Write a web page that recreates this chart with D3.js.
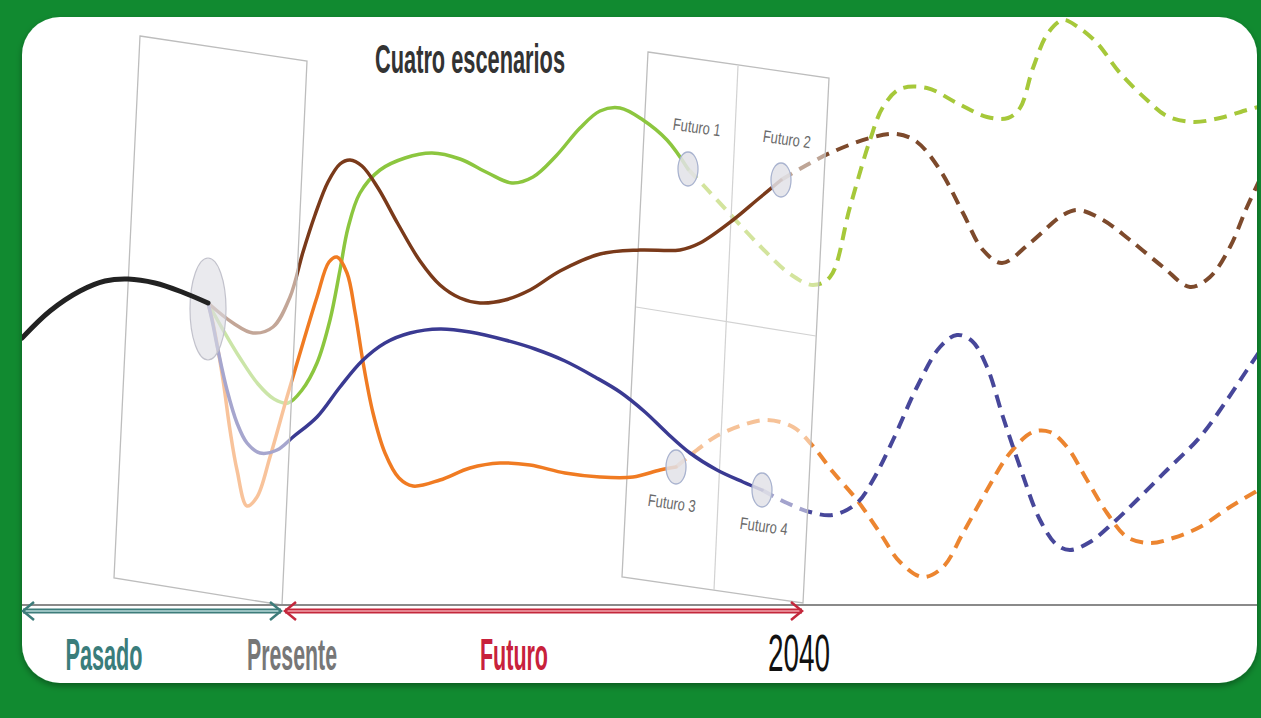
<!DOCTYPE html>
<html>
<head>
<meta charset="utf-8">
<script src="https://cdn.jsdelivr.net/npm/d3@7"></script>
<style>
  body { margin: 0; background: #118a30; overflow: hidden; }
</style>
</head>
<body>
<script>
// points are read in the reference frame (1261 x 718 units, y down)
const pasado = [[22,338],[50,311],[80,291],[105,281],[128,279],[155,283],[182,292],[208,303]];

const scenarioNames = ["Futuro 1", "Futuro 2", "Futuro 3", "Futuro 4"];

const futuro1Path = [[208,303],[222,328],[240,358],[258,384],[274,399],[288,403],[302,390],[317,363],[330,320],[340,270],[348,228],[360,193],[380,170],[405,158],[432,153],[460,159],[488,173],[512,183],[533,177],[556,156],[580,128],[600,111],[620,108],[643,120],[667,140],[688,169]];
const futuro2Path = [[208,303],[233,323],[253,333],[273,327],[290,297],[303,252],[315,215],[328,182],[340,164],[350,160],[362,166],[378,188],[398,224],[420,261],[440,285],[460,298],[480,303],[505,300],[530,290],[560,271],[600,254],[640,250],[680,250],[700,243],[733,220],[757,200],[781,180]];
const futuro3Path = [[208,303],[213,323],[223,380],[230,430],[237,470],[247,506],[257,497],[270,457],[287,397],[303,343],[317,297],[329,262],[337,257],[347,273],[355,312],[363,362],[373,413],[385,453],[399,478],[413,486],[440,480],[470,468],[500,463],[530,465],[565,473],[600,477],[633,477],[660,470],[676,467]];
const futuro4Path = [[208,303],[212,320],[218,350],[227,390],[237,423],[247,443],[260,453],[277,450],[293,437],[317,417],[340,387],[362,361],[385,343],[410,333],[440,329],[470,332],[505,340],[535,349],[565,361],[595,377],[620,392],[645,412],[667,433],[690,453],[717,470],[743,482],[762,490]];

const futuro1Dash = [[688,169],[705,187],[730,214],[760,246],[790,274],[813,285],[830,277],[850,207],[870,140],[883,107],[900,89],[927,88],[957,103],[987,117],[1008,118],[1020,108],[1033,68],[1048,33],[1063,20],[1078,27],[1097,43],[1120,73],[1147,100],[1167,116],[1193,122],[1220,118],[1247,110],[1262,106]];
const futuro2Dash = [[781,180],[805,166],[830,153],[870,138],[897,134],[917,142],[940,170],[963,213],[983,250],[1002,263],[1030,243],[1063,215],[1078,210],[1103,220],[1130,240],[1163,267],[1190,287],[1210,277],[1230,247],[1247,207],[1262,175]];
const futuro3Dash = [[676,467],[697,450],[715,437],[740,426],[767,420],[793,427],[812,445],[833,472],[857,500],[880,533],[900,562],[923,577],[943,567],[963,533],[987,490],[1010,453],[1033,432],[1050,432],[1067,447],[1087,480],[1107,513],[1127,537],[1150,543],[1173,538],[1200,527],[1230,507],[1262,488]];
const futuro4Dash = [[762,490],[787,503],[810,512],[833,515],[857,503],[873,480],[893,440],[917,387],[940,347],[957,335],[972,341],[987,367],[1003,417],[1020,467],[1040,520],[1057,545],[1070,550],[1090,542],[1113,523],[1137,500],[1167,470],[1200,437],[1227,400],[1247,370],[1262,348]];

const presenteNode = [208,309];
const futureLabelAt = [[696,133],[786,145],[671,509],[763,532]];

const planoPasado = [[140,36],[307,61],[282,605],[114,578]];
const planoFuturo = [[648,52],[829,78],[803,603],[622,577]];
const divisiones = [[[738,66],[714,590]],[[636,307],[816,336]]];

const timeLabels = ["Pasado", "Presente", "Futuro", "2040"];
const timeLabelAt = [104, 292, 514, 799];
const pastSpan = [22, 282], futureSpan = [284, 803];
const titulo = "Cuatro escenarios";

const solidPaths = [futuro1Path, futuro2Path, futuro3Path, futuro4Path];
const dashPaths = [futuro1Dash, futuro2Dash, futuro3Dash, futuro4Dash];
const solidColors = ["#8cc63f", "#7a3a1a", "#f07b22", "#3a3a92"];
const dashColors = ["#a6c83a", "#7d4a2c", "#ec8530", "#47479a"];

const W = 1261, H = 718;
const x = d3.scaleLinear().domain([0, 1261]).range([0, W]);
const y = d3.scaleLinear().domain([0, 718]).range([0, H]);
const line = d3.line().x(d => x(d[0])).y(d => y(d[1])).curve(d3.curveCatmullRom.alpha(0.5));
const poly = pts => "M" + pts.map(p => x(p[0]) + "," + y(p[1])).join("L") + "Z";

const svg = d3.select("body").append("svg").attr("width", W).attr("height", H);
const defs = svg.append("defs");
defs.append("clipPath").attr("id", "card")
  .append("rect").attr("x", x(22)).attr("y", y(17)).attr("width", x(1257) - x(22)).attr("height", y(683) - y(17)).attr("rx", 38);
const f = defs.append("filter").attr("id", "shadow").attr("x", "-5%").attr("y", "-5%").attr("width", "110%").attr("height", "115%");
f.append("feDropShadow").attr("dx", 0).attr("dy", 3).attr("stdDeviation", 3).attr("flood-color", "#000").attr("flood-opacity", 0.35);

svg.append("rect").attr("width", W).attr("height", H).attr("fill", "#118a30");
svg.append("rect")
  .attr("x", x(22)).attr("y", y(17)).attr("width", x(1257) - x(22)).attr("height", y(683) - y(17))
  .attr("rx", 38).attr("fill", "#fff").attr("filter", "url(#shadow)");

const plot = svg.append("g").attr("clip-path", "url(#card)");

// dashed continuations, behind the future plane
dashPaths.forEach((p, i) => {
  plot.append("path").attr("d", line(p))
    .attr("fill", "none").attr("stroke", dashColors[i])
    .attr("stroke-width", 4).attr("stroke-dasharray", "13 8");
});

// future plane
plot.append("path").attr("d", poly(planoFuturo))
  .attr("fill", "#fff").attr("fill-opacity", 0.5)
  .attr("stroke", "#bdbdbd").attr("stroke-width", 1.3);
divisiones.forEach(d => {
  plot.append("line")
    .attr("x1", x(d[0][0])).attr("y1", y(d[0][1])).attr("x2", x(d[1][0])).attr("y2", y(d[1][1]))
    .attr("stroke", "#d2d2d2").attr("stroke-width", 1.2);
});

// solid scenario paths
solidPaths.forEach((p, i) => {
  plot.append("path").attr("d", line(p))
    .attr("fill", "none").attr("stroke", solidColors[i])
    .attr("stroke-width", 3.5).attr("stroke-linecap", "round");
});

// past plane fades the start of the scenarios
plot.append("path").attr("d", poly(planoPasado))
  .attr("fill", "#fff").attr("fill-opacity", 0.55)
  .attr("stroke", "#bdbdbd").attr("stroke-width", 1.3);

plot.append("ellipse")
  .attr("cx", x(presenteNode[0])).attr("cy", y(presenteNode[1])).attr("rx", 18).attr("ry", 51)
  .attr("fill", "#dcdce2").attr("fill-opacity", 0.6).attr("stroke", "#c2c2cc").attr("stroke-width", 1.2);

plot.append("path").attr("d", line(pasado))
  .attr("fill", "none").attr("stroke", "#222").attr("stroke-width", 5).attr("stroke-linecap", "round");

// future nodes and labels
solidPaths.forEach((p, i) => {
  const end = p[p.length - 1];
  plot.append("ellipse")
    .attr("cx", x(end[0])).attr("cy", y(end[1])).attr("rx", 10).attr("ry", 17)
    .attr("fill", "#e2e2e8").attr("fill-opacity", 0.85).attr("stroke", "#a9b3cf").attr("stroke-width", 1.3);
  const at = futureLabelAt[i];
  plot.append("text")
    .attr("transform", "translate(" + x(at[0]) + "," + y(at[1]) + ") rotate(8)")
    .attr("text-anchor", "middle").attr("font-family", "Liberation Sans, Arial, sans-serif")
    .attr("font-size", 17).attr("fill", "#6a6a6a")
    .attr("textLength", 48).attr("lengthAdjust", "spacingAndGlyphs")
    .text(scenarioNames[i]);
});

// title
svg.append("text")
  .attr("x", x(470)).attr("y", y(73)).attr("text-anchor", "middle")
  .attr("font-family", "Liberation Sans, Arial, sans-serif").attr("font-weight", "bold")
  .attr("font-size", 41).attr("fill", "#333")
  .attr("textLength", 190).attr("lengthAdjust", "spacingAndGlyphs")
  .text(titulo);

// timeline
svg.append("line").attr("x1", x(22)).attr("x2", x(1257)).attr("y1", y(605)).attr("y2", y(605))
  .attr("stroke", "#8a8a8a").attr("stroke-width", 2);

function span(s, col, inner) {
  const g = svg.append("g");
  const ya = y(611);
  g.append("line").attr("x1", x(s[0]) + 1).attr("x2", x(s[1]) - 1).attr("y1", ya).attr("y2", ya)
    .attr("stroke", col).attr("stroke-width", 5);
  g.append("line").attr("x1", x(s[0]) + 2).attr("x2", x(s[1]) - 2).attr("y1", ya).attr("y2", ya)
    .attr("stroke", inner).attr("stroke-width", 1.4);
  g.append("polyline").attr("points", [[x(s[0]) + 12, ya - 9], [x(s[0]) + 1, ya], [x(s[0]) + 12, ya + 9]].join(" "))
    .attr("fill", "none").attr("stroke", col).attr("stroke-width", 2.5);
  g.append("polyline").attr("points", [[x(s[1]) - 12, ya - 9], [x(s[1]) - 1, ya], [x(s[1]) - 12, ya + 9]].join(" "))
    .attr("fill", "none").attr("stroke", col).attr("stroke-width", 2.5);
}
span(pastSpan, "#3d7c7a", "#b9dada");
span(futureSpan, "#c4283c", "#f2a4ac");

const labelColors = ["#3a7d7b", "#777777", "#c8213b", "#111"];
const labelLen = [77, 90, 68, 62];
timeLabels.forEach((t, i) => {
  const last = i === 3;
  svg.append("text")
    .attr("x", x(timeLabelAt[i])).attr("y", y(last ? 671 : 670)).attr("text-anchor", "middle")
    .attr("font-family", "Liberation Sans, Arial, sans-serif")
    .attr("font-weight", last ? "normal" : "bold")
    .attr("font-size", last ? 52 : 44).attr("fill", labelColors[i])
    .attr("textLength", labelLen[i]).attr("lengthAdjust", "spacingAndGlyphs")
    .text(t);
});
</script>
</body>
</html>
